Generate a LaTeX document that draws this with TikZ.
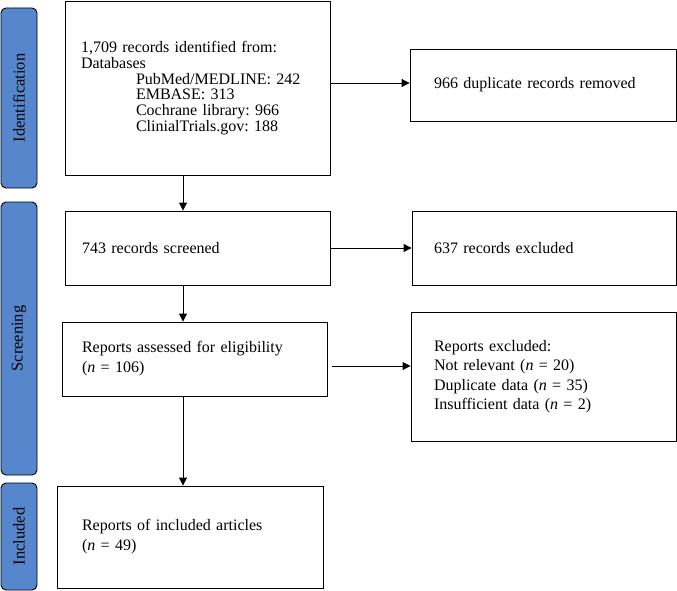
\documentclass[tikz,border=0pt]{standalone}
\usepackage{fontspec}
\setmainfont{Liberation Serif}
\usetikzlibrary{arrows.meta}
\frenchspacing
\definecolor{barblue}{RGB}{86,135,204}
\tikzset{
  box/.style={draw, line width=0.9pt, align=left, inner ysep=0pt,
    font=\fontsize{16}{17}\selectfont},
  bar/.style={draw, line width=0.9pt, fill=barblue, rounded corners=5pt,
    minimum width=36pt, inner sep=0pt},
  bartext/.style={rotate=90, font=\fontsize{16.5}{18}\selectfont},
  arr/.style={line width=0.9pt, -{Triangle[length=8pt,width=8pt]}}
}
\begin{document}
\begin{tikzpicture}[x=1pt,y=-1pt]
\useasboundingbox (0,0) rectangle (677,591);
% side bars
\node[bar, minimum height=180pt] (idb) at (19,98) {};
\node[bartext] (idt) at (idb.center) {Identification};
\node[bar, minimum height=273pt] (scb) at (19,338.5) {};
\node[bartext] (sct) at (scb.center) {Screening};
\node[bar, minimum height=107pt] (inb) at (19,536.5) {};
\node[bartext] (int) at (inb.center) {Included};
% boxes
\node[box, minimum height=174pt, inner xsep=16pt, text width=233pt] (b1) at (197.5,88)
 {1,709 records identified from:\\[-1.3pt]
  Databases\\[-1.3pt]
  \hspace*{55pt}PubMed/MEDLINE: 242\\[-1.3pt]
  \hspace*{55pt}EMBASE: 313\\[-1.3pt]
  \hspace*{55pt}Cochrane library: 966\\[-1.3pt]
  \hspace*{55pt}ClinialTrials.gov: 188};
\node[box, minimum height=72pt, inner xsep=24pt, text width=218pt] (b2) at (543,85)
 {966 duplicate records removed};
\node[box, minimum height=74pt, inner xsep=17pt, text width=231pt] (b3) at (197.5,248)
 {743 records screened};
\node[box, minimum height=74pt, inner xsep=22pt, text width=220pt] (b4) at (544,248)
 {637 records excluded};
\node[box, minimum height=74pt, inner xsep=20pt, text width=225pt] (b5) at (194.5,359)
 {Reports assessed for eligibility\\[3pt]
  (\textit{n} = 106)};
\node[box, minimum height=129pt, inner xsep=23pt, text width=219pt] (b6) at (543.5,376.5)
 {Reports excluded:\\[2.3pt]
  Not relevant (\textit{n} = 20)\\[2.3pt]
  Duplicate data (\textit{n} = 35)\\[2.3pt]
  Insufficient data (\textit{n} = 2)};
\node[box, minimum height=102pt, inner xsep=25pt, text width=216pt] (b7) at (190,537)
 {Reports of included articles\\[3pt]
  (\textit{n} = 49)};
% connectors
\draw[arr] ([yshift=5pt]b1.east) -- ([yshift=5pt]b1.east -| b2.west);
\draw[arr] (b3.east) -- (b3.east -| b4.west);
\draw[arr] ([xshift=5pt,yshift=-7pt]b5.east) -- ([yshift=-7pt]b5.east -| b6.west);
\draw[arr] (b1.south -| 183,0) -- (b3.north -| 183,0);
\draw[arr] (b3.south -| 183,0) -- (b5.north -| 183,0);
\draw[arr] (b5.south -| 183,0) -- (b7.north -| 183,0);
\end{tikzpicture}
\end{document}
